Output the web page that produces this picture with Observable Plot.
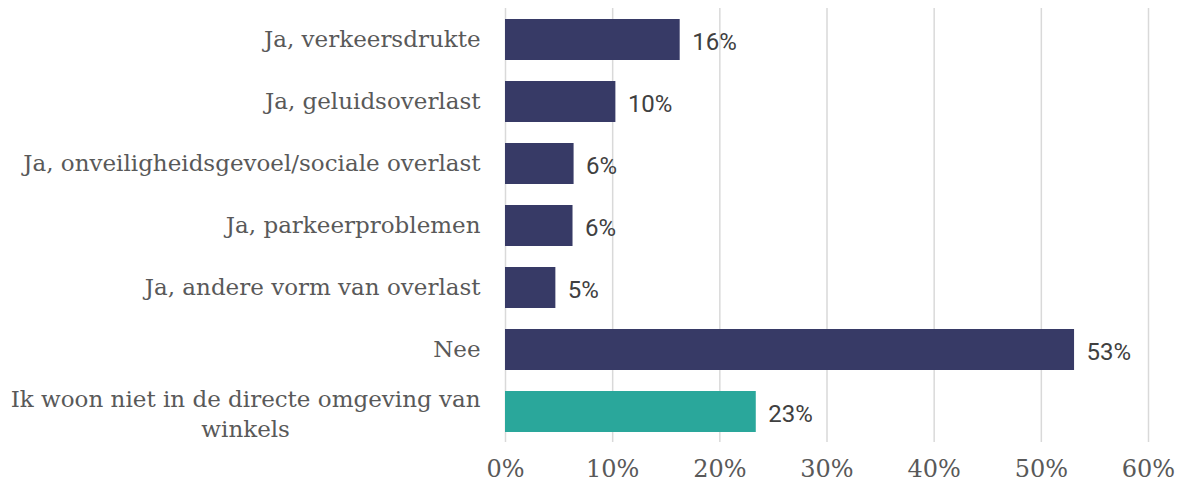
<!DOCTYPE html>
<html>
<head>
<meta charset="utf-8">
<script src="https://cdn.jsdelivr.net/npm/d3@7"></script>
<script src="https://cdn.jsdelivr.net/npm/@observablehq/plot@0.6"></script>
<style>
  html, body { margin: 0; padding: 0; background: #ffffff; }
  #chart svg { display: block; }
</style>
</head>
<body>
<div id="chart"></div>
<script>
const categories = [
  "Ja, verkeersdrukte",
  "Ja, geluidsoverlast",
  "Ja, onveiligheidsgevoel/sociale overlast",
  "Ja, parkeerproblemen",
  "Ja, andere vorm van overlast",
  "Nee",
  "Ik woon niet in de directe omgeving van winkels"
];
const values = [16.3, 10.3, 6.4, 6.3, 4.7, 53.1, 23.4];
const groups = ["omgeving", "omgeving", "omgeving", "omgeving", "omgeving", "omgeving", "niet"];
const xTicks = [0, 10, 20, 30, 40, 50, 60];

const data = categories.map((c, i) => ({cat: c, value: values[i], group: groups[i]}));

const labelFont = "DejaVu Serif";
const labelSize = 23;
const wrapped = categories[categories.length - 1];
const wrapLabel = s => s.replace(/ (\S+)$/, "\n$1");
const firstLine = wrapLabel(wrapped).split("\n")[0];
const ctx = document.createElement("canvas").getContext("2d");
ctx.font = `${labelSize}px "${labelFont}"`;
const firstW = ctx.measureText(firstLine).width;

const chart = Plot.plot({
  width: 1182,
  height: 486,
  marginLeft: 505,
  marginRight: 34,
  marginTop: 8,
  marginBottom: 44,
  style: {background: "#ffffff"},
  x: {domain: [0, 60], ticks: xTicks, tickFormat: d => d + "%"},
  y: {domain: categories, paddingInner: 0.34, paddingOuter: 0.17, axis: null},
  color: {domain: ["omgeving", "niet"], range: ["#373a66", "#2aa79b"]},
  marks: [
    Plot.gridX(xTicks, {stroke: "#d9d9d9", strokeOpacity: 1, strokeWidth: 1.5}),
    Plot.barX(data, {x: "value", y: "cat", fill: "group"}),
    Plot.text(data, {
      x: "value", y: "cat", text: d => Math.round(d.value) + "%",
      textAnchor: "start", dx: 12, dy: 2, fontSize: 24, fill: "#404040", fontFamily: "Roboto"
    }),
    Plot.text(data.filter(d => d.cat !== wrapped), {
      y: "cat", frameAnchor: "left", text: "cat", textAnchor: "end", dx: -25,
      fontSize: labelSize, fontFamily: labelFont, fill: "#595959"
    }),
    Plot.text(data.filter(d => d.cat === wrapped), {
      y: "cat", frameAnchor: "left", text: d => wrapLabel(d.cat), textAnchor: "middle",
      dx: -25 - firstW / 2, lineHeight: 1.3,
      fontSize: labelSize, fontFamily: labelFont, fill: "#595959"
    }),
    Plot.axisX(xTicks, {
      tickSize: 0, tickPadding: 17, tickFormat: d => d + "%",
      fontSize: 24, fontFamily: labelFont, fill: "#595959", label: null
    })
  ]
});
document.getElementById("chart").appendChild(chart);
</script>
</body>
</html>
